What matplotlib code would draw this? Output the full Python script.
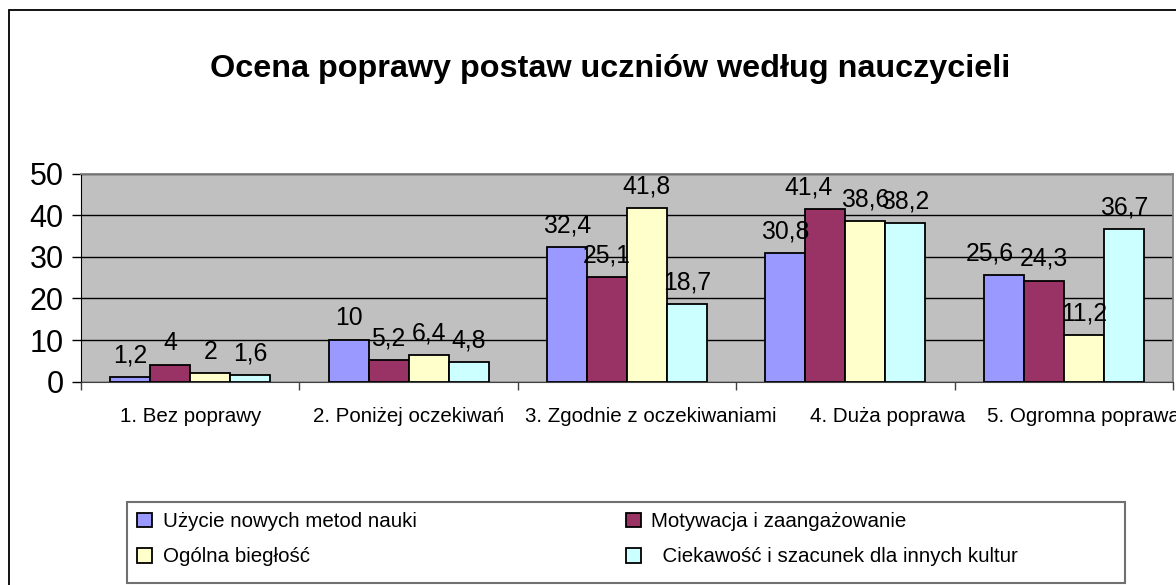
import matplotlib
matplotlib.use("Agg")
import matplotlib.pyplot as plt
import numpy as np
from matplotlib.patches import Rectangle
from matplotlib.transforms import ScaledTranslation

plt.rcParams["font.family"] = ["Liberation Sans", "DejaVu Sans"]

TITLE = "Ocena poprawy postaw uczniów według nauczycieli"
categories = ["1. Bez poprawy", "2. Poniżej oczekiwań", "3. Zgodnie z oczekiwaniami",
              "4. Duża poprawa", "5. Ogromna poprawa"]
series_names = ["Użycie nowych metod nauki", "Motywacja i zaangażowanie",
                "Ogólna biegłość", "  Ciekawość i szacunek dla innych kultur"]
metody = [1.2, 10, 32.4, 30.8, 25.6]
motywacja = [4, 5.2, 25.1, 41.4, 24.3]
bieglosc = [2, 6.4, 41.8, 38.6, 11.2]
ciekawosc = [1.6, 4.8, 18.7, 38.2, 36.7]
colors = ["#9999FF", "#993366", "#FFFFCC", "#CCFFFF"]

W, H = 1176, 585


def fx(x):
    return x / W


def fy(y):
    return 1 - y / H


fig = plt.figure(figsize=(W / 100, H / 100), dpi=100)

# outer chart frame (runs off right/bottom like the original)
fig.patches.append(Rectangle((fx(8.5), fy(600)), fx(1200), fy(9.5) - fy(600),
                             transform=fig.transFigure, fill=False,
                             edgecolor="black", lw=1.3))

ax = fig.add_axes([fx(81), fy(381.7), fx(1173) - fx(81), fy(173.5) - fy(381.7)])
ax.set_facecolor("#C0C0C0")

x = np.arange(len(categories))
bw = 0.183
# a couple of value labels sit a bit left of their bar in the original
label_nudge_pt = {(3, 1): -12, (4, 0): -10}
all_series = [metody, motywacja, bieglosc, ciekawosc]
for i, (vals, col, name) in enumerate(zip(all_series, colors, series_names)):
    xs = x + (i - 1.5) * bw
    ax.bar(xs, vals, width=bw, color=col, edgecolor="black", lw=1.3, label=name, zorder=3)
    for j, (xi, v) in enumerate(zip(xs, vals)):
        ax.annotate(f"{v:g}".replace(".", ","), xy=(xi, v),
                    xytext=(label_nudge_pt.get((j, i), 0), 10.5),
                    textcoords="offset points", ha="center", va="baseline",
                    fontsize=17.8, zorder=4)

ax.set_xlim(-0.5, len(categories) - 0.5)
ax.set_ylim(0, 50)
ax.set_yticks(range(0, 51, 10))
ax.yaxis.grid(True, color="black", lw=1)
ax.set_axisbelow(True)
ax.tick_params(axis="y", labelsize=22, length=6.5, width=1, pad=6)

ax.set_xticks(np.arange(-0.5, len(categories), 1.0))
ax.set_xticklabels([])
ax.tick_params(axis="x", which="major", length=6, width=1, color="#404040")
ax.set_xticks(x, minor=True)
ax.set_xticklabels(categories, minor=True, fontsize=14.8)
ax.tick_params(axis="x", which="minor", length=0, pad=18)

# long category labels get pushed right, as in the original layout
label_shift_px = [0, 0, 24, 42, 20]
for lab, dx in zip(ax.get_xticklabels(minor=True), label_shift_px):
    lab.set_transform(lab.get_transform() + ScaledTranslation(dx / 100, 0, fig.dpi_scale_trans))

for s in ["top", "right"]:
    ax.spines[s].set_color("#808080")
    ax.spines[s].set_linewidth(1.3)
ax.spines["left"].set_color("black")
ax.spines["bottom"].set_color("#404040")

fig.text(fx(610), fy(77), TITLE, ha="center", va="baseline", fontsize=23.3,
         fontweight="bold")

# legend box
fig.patches.append(Rectangle((fx(127), fy(583)), fx(1125) - fx(127), fy(502) - fy(583),
                             transform=fig.transFigure, facecolor="white",
                             edgecolor="#707070", lw=1.5))
handles, labels = ax.get_legend_handles_labels()
order = [0, 2, 1, 3]
fig.legend([handles[k] for k in order], [labels[k] for k in order],
           loc="upper left", bbox_to_anchor=(fx(127), fy(502)), ncol=2,
           frameon=False, fontsize=14.8, borderaxespad=0, borderpad=0.5,
           handlelength=0.73, handleheight=0.73, handletextpad=0.5,
           columnspacing=10.2, labelspacing=0.78)

fig.savefig("out.png", dpi=100)
